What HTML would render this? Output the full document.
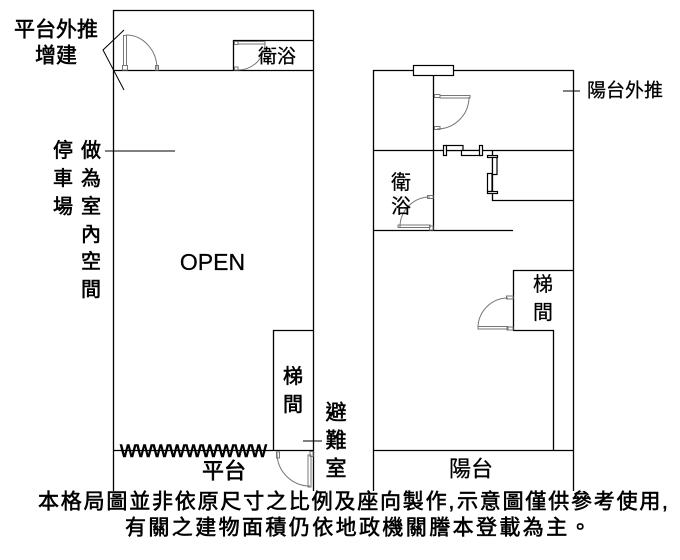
<!DOCTYPE html>
<html><head><meta charset="utf-8"><style>
html,body{margin:0;padding:0;background:#fff;}
body{width:680px;height:560px;overflow:hidden;position:relative;}
svg{position:absolute;left:0;top:0;}
text{font-family:"Liberation Sans","Noto Sans CJK TC",sans-serif;fill:#000;}
.b{stroke:#000;stroke-width:0.6px;}
.m{stroke:#000;stroke-width:0.25px;}
</style></head><body>
<svg width="680" height="560" viewBox="0 0 680 560" xmlns="http://www.w3.org/2000/svg">
<rect x="0" y="0" width="680" height="560" fill="#fff"/>
<!-- LEFT PLAN walls -->
<g stroke="#000" stroke-width="1.3" fill="none">
  <path d="M113.5 10 V491 M113 10.5 H314 M313.5 10 V491 M113 70.5 H314"/>
  <path d="M233.5 40 V71 M233 40.5 H314"/>
  <path d="M273.5 330 V451 M273 330.5 H314 M113 450.5 H314"/>
</g>
<!-- leaders left -->
<g stroke="#000" stroke-width="1" fill="none">
  <path d="M124 30 L103 50 L124 90"/>
  <path d="M105 151 H175"/>
  <path d="M303 441 H322"/>
</g>
<!-- left doors -->
<g stroke="#777" stroke-width="1" fill="none">
  <rect x="123.5" y="35.5" width="3" height="30"/>
  <rect x="122.5" y="65.5" width="5" height="4.5"/>
  <rect x="155.5" y="65.5" width="3" height="4.5"/>
  <path d="M126 35 A31 34 0 0 1 157 69"/>
  <rect x="238" y="41.5" width="27" height="2.5"/>
  <rect x="234.5" y="41.5" width="3.5" height="3"/>
  <rect x="234.5" y="67" width="3.5" height="3"/>
  <path d="M265 43 A27 27 0 0 1 238 70"/>
  <rect x="308" y="455" width="3" height="32"/>
  <rect x="276.5" y="452" width="3" height="6"/>
  <rect x="310" y="451.5" width="3" height="5"/>
  <path d="M277 453 A33 33 0 0 0 310 486"/>
</g>

<!-- RIGHT PLAN walls -->
<g stroke="#000" stroke-width="1.3" fill="none">
  <path d="M373.5 70 V491 M373 70.5 H574 M573.5 70 V491"/>
  <path d="M433.5 75 V231 M373 150.5 H574 M492.5 150 V201 M492 200.5 H574 M373 230.5 H513"/>
  <path d="M513.5 270 V331 M513 270.5 H574 M513 330.5 H554 M553.5 330 V451 M373 450.5 H574"/>
</g>
<g stroke="#000" stroke-width="1.2" fill="#fff">
  <rect x="413.5" y="65.5" width="40" height="10"/>
  <rect x="443.5" y="145.5" width="3" height="10"/>
  <rect x="446.5" y="145.5" width="16.5" height="5"/>
  <rect x="461.5" y="150.5" width="19" height="5"/>
  <rect x="479.5" y="145.5" width="3" height="10"/>
  <rect x="487.5" y="155.5" width="10" height="2"/>
  <rect x="492.5" y="157.5" width="4.5" height="17"/>
  <rect x="487.5" y="173.5" width="4.5" height="18"/>
  <rect x="487.5" y="191.5" width="10" height="2"/>
</g>
<g stroke="#000" stroke-width="1" fill="none">
  <path d="M563 91 H580"/>
</g>
<!-- right doors -->
<g stroke="#777" stroke-width="1" fill="none">
  <rect x="440" y="95.5" width="30" height="2.5"/>
  <rect x="434.5" y="94.5" width="5.5" height="3"/>
  <rect x="434.5" y="126.5" width="5.5" height="3"/>
  <path d="M469 97 A32 32 0 0 1 437 129"/>
  <rect x="398" y="225" width="32" height="2.5"/>
  <rect x="427.5" y="195.5" width="5.5" height="3"/>
  <rect x="429.5" y="226" width="3.5" height="4"/>
  <path d="M430 197 A30 30 0 0 0 400 227"/>
  <rect x="478" y="326.5" width="30" height="2.5"/>
  <rect x="506.5" y="296" width="6.5" height="3"/>
  <rect x="507" y="327" width="6" height="3"/>
  <path d="M508 298 A30 30 0 0 0 478 328"/>
</g>

<!-- LEFT labels -->
<g text-anchor="middle" dominant-baseline="central">
  <text class="b" x="56" y="30" font-size="21">平台外推</text>
  <text class="b" x="56" y="56" font-size="21">增建</text>
  <text class="m" x="277" y="57" font-size="19">衛浴</text>
  <g font-size="20" class="b">
    <text x="63" y="151">停</text>
    <text x="63" y="179">車</text>
    <text x="63" y="207">場</text>
    <text x="91" y="151">做</text>
    <text x="91" y="179">為</text>
    <text x="91" y="207">室</text>
    <text x="91" y="235">內</text>
    <text x="91" y="262">空</text>
    <text x="91" y="290">間</text>
    <text x="293" y="377">梯</text>
    <text x="293" y="405">間</text>
  </g>
  <text class="b" x="224" y="471" font-size="22">平台</text>
  <g font-size="21" class="b">
    <text x="336" y="413">避</text>
    <text x="336" y="441">難</text>
    <text x="336" y="469">室</text>
  </g>
  <!-- right labels -->
  <g font-size="20" class="m">
    <text x="401" y="183">衛</text>
    <text x="401" y="207">浴</text>
    <text x="543" y="285">梯</text>
    <text x="543" y="313">間</text>
  </g>
  <text class="m" x="471" y="469" font-size="22">陽台</text>
</g>
<text class="m" x="587" y="91" font-size="19" dominant-baseline="central">陽台外推</text>
<text class="m" x="212.5" y="270" font-size="23" text-anchor="middle">OPEN</text>
<text class="b" x="120" y="457" font-size="23" textLength="147" lengthAdjust="spacingAndGlyphs">wwwwwwwww</text>

<!-- caption -->
<text class="b" font-size="21" dominant-baseline="central" y="502" x="38 60.8 83.6 106.4 129.2 152 174.8 197.6 220.4 243.2 266 288.8 311.6 334.4 357.2 380 402.8 425.6 448.5 457 479.8 502.6 525.4 548.2 571 593.8 616.6 639.4 662">本格局圖並非依原尺寸之比例及座向製作,示意圖僅供參考使用,</text>
<text class="b" font-size="21" dominant-baseline="central" y="528" x="125 148.4 171.8 195.2 218.6 242 265.4 288.8 312.2 335.6 359 382.4 405.8 429.2 452.6 476 499.4 522.8 546.2 569.6">有關之建物面積仍依地政機關謄本登載為主。</text>
</svg>
</body></html>
